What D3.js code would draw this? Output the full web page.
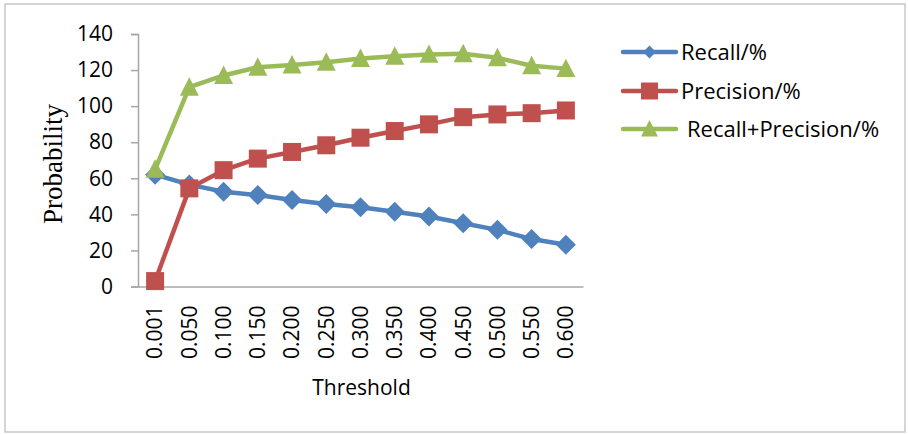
<!DOCTYPE html>
<html>
<head>
<meta charset="utf-8">
<script src="https://cdn.jsdelivr.net/npm/d3@7"></script>
<style>
  html, body { margin: 0; padding: 0; background: #fff; }
  svg { display: block; }
</style>
</head>
<body>
<svg id="chart" width="908" height="434"></svg>
<script>
// Threshold categories and the three measured series (percent)
const thresholds = ["0.001", "0.050", "0.100", "0.150", "0.200", "0.250", "0.300",
                    "0.350", "0.400", "0.450", "0.500", "0.550", "0.600"];
const recall = [62, 56.5, 52.5, 50.7, 48, 45.8, 43.9, 41.5, 38.8, 35.1, 31.4, 26.3, 23.2];
const precision = [3, 54.4, 64.5, 70.9, 74.6, 78.3, 82.5, 86.2, 89.9, 93.9, 95.4, 96.1, 97.6];
const recallPlusPrecision = [65, 110.5, 117, 121.6, 122.8, 124.3, 126.4, 127.7, 128.7, 129, 126.8, 122.4, 120.8];
const yTicks = [0, 20, 40, 60, 80, 100, 120, 140];

const seriesNames = ["Recall/%", "Precision/%", "Recall+Precision/%"];
const seriesColors = ["#4F81BD", "#C0504D", "#9BBB59"];
const seriesShapes = ["diamond", "square", "triangle"];

const series = [recall, precision, recallPlusPrecision].map((vals, i) => ({
  name: seriesNames[i], color: seriesColors[i], shape: seriesShapes[i], values: vals
}));

const svg = d3.select("#chart");

// outer frame
svg.append("rect")
  .attr("x", 5).attr("y", 4).attr("width", 900).attr("height", 428)
  .attr("fill", "#fff").attr("stroke", "#c8c8c8").attr("stroke-width", 1.5);

const plot = { left: 138, right: 583, top: 34, bottom: 286.5 };

const x = d3.scaleBand().domain(thresholds).range([plot.left, plot.right]);
const y = d3.scaleLinear().domain([0, 140]).range([plot.bottom, plot.top]);

const tickFont = "'Open Sans', 'Noto Sans', sans-serif";
const axisColor = "#a6a6a6";

// y axis
const yAxis = svg.append("g")
  .attr("transform", `translate(${plot.left},0)`)
  .call(d3.axisLeft(y).tickValues(yTicks).tickSize(7).tickPadding(18));
yAxis.select(".domain").attr("stroke", axisColor).attr("stroke-width", 1.5);
yAxis.selectAll(".tick line").attr("stroke", axisColor).attr("stroke-width", 1.5);
yAxis.selectAll(".tick text")
  .attr("font-family", tickFont).attr("font-size", 21).attr("fill", "#000");

// x axis
const xAxis = svg.append("g")
  .attr("transform", `translate(0,${plot.bottom})`)
  .call(d3.axisBottom(x).tickSize(0).tickSizeOuter(0));
xAxis.select(".domain").attr("stroke", axisColor).attr("stroke-width", 1.5);
xAxis.selectAll(".tick text")
  .attr("font-family", tickFont).attr("font-size", 21).attr("fill", "#000")
  .attr("transform", "rotate(-90)")
  .attr("text-anchor", "end")
  .attr("x", -19).attr("y", 0).attr("dy", "0.35em");

// axis titles
svg.append("text")
  .attr("x", (plot.left + plot.right) / 2 + 1).attr("y", 395)
  .attr("text-anchor", "middle")
  .attr("font-family", tickFont).attr("font-size", 21).attr("fill", "#000")
  .text("Threshold");

svg.append("text")
  .attr("transform", `translate(62,164) rotate(-90)`)
  .attr("text-anchor", "middle")
  .attr("font-family", "'Liberation Serif', 'DejaVu Serif', serif")
  .attr("font-size", 27).attr("fill", "#000")
  .text("Probability");

// marker shapes
function markerPath(shape, s) {
  if (shape === "diamond") return `M0,${-s}L${s},0L0,${s}L${-s},0Z`;
  if (shape === "square") return `M${-s},${-s}H${s}V${s}H${-s}Z`;
  const h = s * 1.05;
  return `M0,${-h}L${s},${h * 0.85}L${-s},${h * 0.85}Z`;
}
const markerSize = { diamond: 10, square: 9, triangle: 9.5 };

const line = d3.line()
  .x((d, i) => x(thresholds[i]) + x.bandwidth() / 2)
  .y(d => y(d));

series.forEach(s => {
  const g = svg.append("g");
  g.append("path")
    .attr("d", line(s.values))
    .attr("fill", "none").attr("stroke", s.color)
    .attr("stroke-width", 4.5).attr("stroke-linejoin", "round").attr("stroke-linecap", "round");
  g.selectAll("path.marker")
    .data(s.values)
    .join("path")
    .attr("class", "marker")
    .attr("transform", (d, i) => `translate(${x(thresholds[i]) + x.bandwidth() / 2},${y(d)})`)
    .attr("d", markerPath(s.shape, markerSize[s.shape]))
    .attr("fill", s.color);
});

// legend
const legendY = [52, 91, 129];
const legendTextX = [681, 681, 687];
series.forEach((s, i) => {
  const g = svg.append("g").attr("transform", `translate(0,${legendY[i]})`);
  g.append("line")
    .attr("x1", 623).attr("x2", 676).attr("y1", 0).attr("y2", 0)
    .attr("stroke", s.color).attr("stroke-width", 4.5).attr("stroke-linecap", "round");
  g.append("path")
    .attr("transform", "translate(649.5,0)")
    .attr("d", markerPath(s.shape, s.shape === "diamond" ? 6.5 : 8.5))
    .attr("fill", s.color);
  g.append("text")
    .attr("x", legendTextX[i]).attr("y", 0).attr("dy", "0.35em")
    .attr("font-family", tickFont).attr("font-size", 22).attr("fill", "#000")
    .text(s.name);
});
</script>
</body>
</html>
